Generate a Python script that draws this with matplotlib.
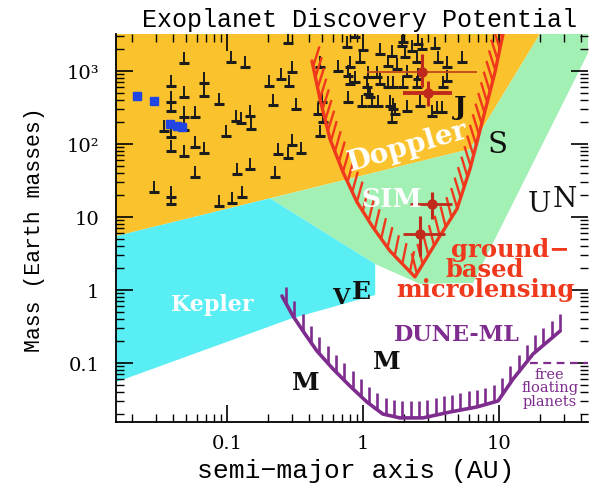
import numpy as np
import matplotlib
matplotlib.use("Agg")
import matplotlib.pyplot as plt
from matplotlib.collections import LineCollection
from matplotlib.path import Path
from matplotlib.ticker import LogLocator, NullFormatter

# ---- data (semi-major axis in AU, mass in Earth masses) ----
# known planets (minimum masses)
rv_a = [0.0483, 0.107, 0.136, 0.0388, 0.0677, 0.0677, 0.0483, 0.0873, 0.0388, 0.0388,
        0.0483, 0.0582, 0.117, 0.127, 0.148, 0.150, 0.204, 0.249, 0.286, 0.300,
        0.218, 0.322, 0.281, 0.0344, 0.0483, 0.0983, 0.0388, 0.0483, 0.0582, 0.0677,
        0.300, 0.237, 0.281, 0.350, 0.148, 0.1185, 0.0582, 0.225, 0.0290, 0.0388,
        0.0388, 0.0873, 0.109, 0.129, 0.0388, 0.763, 1.0, 1.33, 1.63, 2.04,
        2.29, 2.72, 3.38, 5.35, 3.56, 0.483, 0.655, 0.802, 0.950, 1.53,
        1.78, 2.11, 2.50, 2.54, 4.15, 1.27, 1.09, 0.776, 0.802, 0.873,
        1.07, 1.09, 1.13, 1.33, 1.53, 1.66, 1.97, 2.50, 3.88, 4.15,
        0.776, 0.983, 1.17, 1.29, 1.58, 1.66, 1.72, 2.11, 2.63, 3.22,
        3.50, 3.81, 1.63, 0.467, 0.500, 0.508, 0.483, 1.94, 2.54, 0.873, 1.97]
rv_m = [1287, 1328, 1134, 623, 685, 455, 440, 353, 376, 283,
        234, 234, 207, 194, 242, 160, 623, 777, 623, 969,
        342, 302, 2419, 151, 156, 129, 80.2, 68.5, 91.0, 75.3,
        96.9, 72.9, 64.3, 75.3, 45.4, 38.8, 35.3, 35.3, 22.0, 18.8,
        15.1, 14.1, 15.6, 18.8, 125, 2132, 1940, 1710, 1605, 1555,
        1879, 2001, 2066, 1328, 1328, 1134, 1000, 1134, 1328, 1171,
        1065, 854, 1328, 777, 1134, 828, 828, 854, 664, 707,
        604, 484, 440, 664, 604, 604, 604, 604, 604, 730,
        376, 332, 332, 332, 332, 302, 258, 283, 332, 242,
        274, 274, 200, 258, 376, 200, 129, 2200, 2344, 2923, 2497]

# transiting hot Jupiters (blue)
tr_a = [0.0218, 0.0291, 0.0381, 0.0429, 0.0467]
tr_m = [455, 388, 188, 177, 171]

# microlensing detections with error bars
ml_pts_a = [2.70, 3.02, 3.20, 2.62]
ml_pts_m = [960, 495, 15.1, 5.85]
ml_a_lo = [1.065, 1.97, 2.22, 1.97]
ml_a_hi = [6.86, 4.49, 4.49, 4.01]
ml_m_lo = [604, 335, 9.4, 2.95]
ml_m_hi = [1710, 737, 22.0, 10.4]

# sensitivity curves
ground_a = [0.422, 0.483, 0.572, 0.713, 0.904, 1.18, 1.58, 2.41, 3.68, 4.91, 6.12, 7.62, 9.35, 10.7]
ground_m = [1370, 413, 117, 41.3, 16.0, 7.3, 3.42, 1.51, 5.5, 12.9, 45.5, 220, 969, 3210]
dune_a = [0.254, 0.306, 0.375, 0.459, 0.602, 0.802, 1.07, 1.40, 1.87, 2.76, 4.36, 6.89, 9.84, 12.7, 17.8, 28.1]
dune_m = [0.828, 0.44, 0.25, 0.146, 0.083, 0.0484, 0.0292, 0.020, 0.0177, 0.0177, 0.0213, 0.0250,
          0.0302, 0.0604, 0.133, 0.274]
free_float_m = 0.1
free_float_a = [16.9, 60]

# survey regions
doppler_a = [0.01, 20, 20, 6.1, 0.01]
doppler_m = [1e4, 1e4, 3210, 85, 4.5]
sim_a = [0.207, 6.1, 20, 20, 100, 46.7, 6.44, 2.62, 1.23]
sim_m = [18.0, 85, 3210, 1e4, 1e4, 2000, 1.25, 1.21, 2.27]
kepler_a = [0.01, 0.207, 1.23, 1.23, 0.29, 0.01]
kepler_m = [4.5, 18.0, 2.27, 0.854, 0.40, 0.041]

ORANGE = "#FAC22C"
GREEN = "#A2F0B4"
CYAN = "#58EEF3"
RED = "#F0381C"
DKRED = "#C02A1C"
PURPLE = "#7E2C8E"
BLUE = "#2145E2"


def hatched(ax, xs, ys, color, lw, tlw, step, length, lean, by_x):
    """Curve with short ticks on its upper (inner) side."""
    ax.plot(xs, ys, color=color, lw=lw, solid_capstyle="round",
            solid_joinstyle="round", zorder=6)
    pts = ax.transData.transform(np.column_stack([xs, ys]))
    seg = np.diff(pts, axis=0)
    d = np.abs(seg[:, 0]) if by_x else np.hypot(seg[:, 0], seg[:, 1])
    cum = np.concatenate([[0], np.cumsum(d)])
    s = np.arange(step / 2, cum[-1], step)
    px = np.interp(s, cum, pts[:, 0])
    py = np.interp(s, cum, pts[:, 1])
    idx = np.clip(np.searchsorted(cum, s) - 1, 0, len(seg) - 1)
    t = seg[idx] / np.hypot(seg[idx, 0], seg[idx, 1])[:, None]
    n = np.column_stack([-t[:, 1], t[:, 0]])
    dv = lean * n + np.array([0.0, 1.0])
    dv /= np.hypot(dv[:, 0], dv[:, 1])[:, None]
    p0 = np.column_stack([px, py])
    p1 = p0 + dv * length
    inv = ax.transData.inverted()
    d0, d1 = inv.transform(p0), inv.transform(p1)
    segs = np.stack([d0, d1], axis=1)
    ax.add_collection(LineCollection(segs, colors=color, linewidths=tlw,
                                     capstyle="butt", zorder=6))


fig = plt.figure(figsize=(5.96, 4.89), dpi=100)
ax = fig.add_axes([116 / 596, 1 - 423 / 489, 472 / 596, 388 / 489])
ax.set_xscale("log")
ax.set_yscale("log")
ax.set_xlim(0.0153, 45.1)
ax.set_ylim(0.01555, 3213)

ax.fill(doppler_a, doppler_m, color=ORANGE, lw=0, zorder=1)
ax.fill(sim_a, sim_m, color=GREEN, lw=0, zorder=1)
ax.fill(kepler_a, kepler_m, color=CYAN, lw=0, zorder=1)

# planet symbols: short bar with a vertical line upward
stem = Path([(0, 0), (0, 1)], [Path.MOVETO, Path.LINETO])
ax.plot(rv_a, rv_m, ls="none", marker=stem, ms=16, mew=1.4,
        mec="#1c1c1c", zorder=3)
ax.plot(rv_a, rv_m, ls="none", marker="_", ms=6.5, mew=2.2,
        mec="#1c1c1c", zorder=3)
ax.plot(tr_a, tr_m, ls="none", marker="s", ms=5.5, color=BLUE, zorder=3)

hatched(ax, ground_a, ground_m, RED, 2.4, 1.7, 11, 21, 0.35, False)
hatched(ax, dune_a, dune_m, PURPLE, 2.6, 1.9, 8.3, 17, 0.0, True)
ax.plot(free_float_a, [free_float_m] * 2, color=PURPLE, lw=1.6,
        ls=(0, (3.5, 2.5)), zorder=4)

pa = np.array(ml_pts_a)
pm = np.array(ml_pts_m)
ax.errorbar(pa, pm, yerr=[pm - np.array(ml_m_lo), np.array(ml_m_hi) - pm],
            fmt="none", ecolor=DKRED, elinewidth=2.2, capsize=0, zorder=7)
xeb = ax.errorbar(pa, pm, xerr=[pa - np.array(ml_a_lo), np.array(ml_a_hi) - pa],
                  fmt="o", ms=6.5, color=DKRED, ecolor=DKRED, elinewidth=2.0,
                  capsize=0, zorder=7)
xeb[2][0].set_linewidths([1.3, 2.8, 2.0, 2.0])
xeb[2][0].set_colors(["#C2461C", DKRED, DKRED, DKRED])

# axes styling
for sp in ("top", "right"):
    ax.spines[sp].set_visible(False)
for sp in ("left", "bottom"):
    ax.spines[sp].set_linewidth(1.3)
ax.tick_params(which="both", direction="in", top=True, right=True,
               colors="black")
ax.tick_params(which="major", length=12, width=1.2, pad=9)
ax.tick_params(which="minor", length=5.5, width=1.0)
ax.xaxis.set_minor_locator(LogLocator(base=10, subs=np.arange(2, 10), numticks=50))
ax.yaxis.set_minor_locator(LogLocator(base=10, subs=np.arange(2, 10), numticks=50))
ax.xaxis.set_minor_formatter(NullFormatter())
ax.yaxis.set_minor_formatter(NullFormatter())
ax.set_xticks([0.1, 1, 10])
ax.set_xticklabels(["0.1", "1", "10"], family="DejaVu Serif", fontsize=14)
ax.set_yticks([0.1, 1, 10, 100, 1000])
ax.set_yticklabels(["0.1", "1", "10", "10²", "10³"], family="DejaVu Serif", fontsize=14)
ax.tick_params(axis="y", which="major", pad=12)

# region and planet labels
serif = "DejaVu Serif"
tA = ax.transAxes
ax.text(0.617, 0.711, "Doppler", transform=tA, rotation=16, color="white",
        family=serif, weight="bold", fontsize=20, ha="center", va="center", zorder=8)
ax.text(0.585, 0.577, "SIM", transform=tA, color="white", family=serif,
        weight="bold", fontsize=19, ha="center", va="center", zorder=8)
ax.text(0.203, 0.304, "Kepler", transform=tA, color="white", family=serif,
        weight="bold", fontsize=16, ha="center", va="center", zorder=8)
ax.text(0.729, 0.814, "J", transform=tA, color="#111111", family=serif,
        weight="bold", fontsize=19, ha="center", va="center", zorder=8)
ax.text(0.809, 0.716, "S", transform=tA, color="#111111", family=serif,
        fontsize=21, ha="center", va="center", zorder=8)
ax.text(0.898, 0.562, "U", transform=tA, color="#111111", family=serif,
        fontsize=20, ha="center", va="center", zorder=8)
ax.text(0.951, 0.577, "N", transform=tA, color="#111111", family=serif,
        fontsize=20, ha="center", va="center", zorder=8)
ax.text(0.477, 0.322, "V", transform=tA, color="#111111", family=serif,
        weight="bold", fontsize=16, ha="center", va="center", zorder=8)
ax.text(0.519, 0.338, "E", transform=tA, color="#111111", family=serif,
        weight="bold", fontsize=18, ha="center", va="center", zorder=8)
ax.text(0.403, 0.103, "M", transform=tA, color="#111111", family=serif,
        weight="bold", fontsize=18, ha="center", va="center", zorder=8)
ax.text(0.574, 0.157, "M", transform=tA, color="#111111", family=serif,
        weight="bold", fontsize=18, ha="center", va="center", zorder=8)
ax.text(0.782, 0.395, "\u00a0\u00a0\u00a0\u00a0\u00a0\u00a0ground−\nbased\nmicrolensing",
        transform=tA, color=RED, family=serif, weight="bold", fontsize=17.5,
        ha="center", va="center", multialignment="center", linespacing=0.78,
        zorder=8)
ax.text(0.722, 0.227, "DUNE-ML", transform=tA, color=PURPLE, family=serif,
        weight="bold", fontsize=16, ha="center", va="center", zorder=8)
ax.text(0.919, 0.090, "free\nfloating\nplanets", transform=tA, color=PURPLE,
        family=serif, fontsize=10.5, ha="center", va="center",
        linespacing=0.95, zorder=8)

mono = "Liberation Mono"
fig.text(360 / 596, 1 - 27 / 489, "Exoplanet Discovery Potential",
         family=mono, fontsize=18, ha="center", va="baseline")
fig.text(356 / 596, 1 - 478 / 489, "semi−major axis (AU)",
         family=mono, fontsize=19, ha="center", va="baseline")
fig.text(40 / 596, 1 - 230 / 489, "Mass (Earth masses)", family=mono,
         fontsize=15.5, rotation=90, rotation_mode="anchor",
         ha="center", va="baseline")

fig.savefig("out.png", dpi=100, facecolor="white")
